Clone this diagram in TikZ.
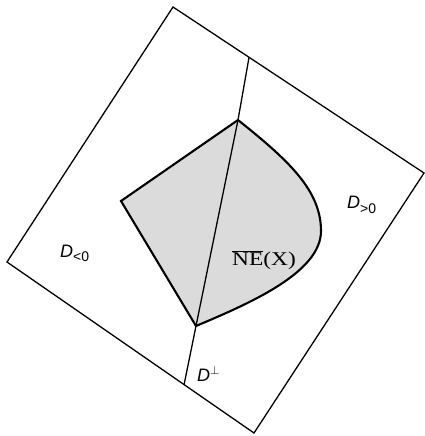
\documentclass[tikz,border=0pt]{standalone}
\usepackage{fontspec}
\setmainfont{Liberation Serif}
\newfontfamily\lsans{Liberation Sans}
\begin{document}
\begin{tikzpicture}[x=1pt,y=-1pt,
  frame/.style={draw=black,line width=1.3pt,line join=miter},
  region/.style={draw=black,fill=black!14,line width=2.1pt,line join=miter},
  perpline/.style={draw=black,line width=1.3pt},
  lbl/.style={inner sep=0pt,anchor=base west}]
\useasboundingbox (0,0) rectangle (424,436);
\coordinate (ct) at (173,7);
\coordinate (cr) at (424,173);
\coordinate (cb) at (254,433);
\coordinate (cl) at (7,262);
\coordinate (pt) at (249,57.5);
\coordinate (vt) at (238,120);
\coordinate (vb) at (196,326);
\coordinate (pb) at (184,385);
\coordinate (vl) at (121,201);
\coordinate (vr) at (321,231);
\path[region] (vl) -- (vt) .. controls (288,160) and (321,190) .. (vr)
  .. controls (321,273) and (248,304) .. (vb) -- cycle;
\draw[frame] (ct) -- (cr) -- (cb) -- (cl) -- cycle;
\draw[perpline] (pt) -- (vt) -- (vb) -- (pb);
\node[inner sep=0pt,anchor=base,xscale=1.2] (ne) at (264,265) {\fontsize{19.5}{19.5}\selectfont$\overline{\mbox{NE}}$(X)};
\node[lbl] (dpos) at (347,208) {{\lsans\fontsize{18}{18}\selectfont\itshape D}{\lsans\fontsize{14}{14}\selectfont\raisebox{-5pt}{>0}}};
\node[lbl] (dneg) at (60,257) {{\lsans\fontsize{18}{18}\selectfont\itshape D}{\lsans\fontsize{14}{14}\selectfont\raisebox{-4pt}{<0}}};
\node[lbl] (dperp) at (197,381) {{\lsans\fontsize{18}{18}\selectfont\itshape D}\raisebox{7pt}{\fontsize{13}{13}\selectfont$\perp$}};
\end{tikzpicture}
\end{document}
